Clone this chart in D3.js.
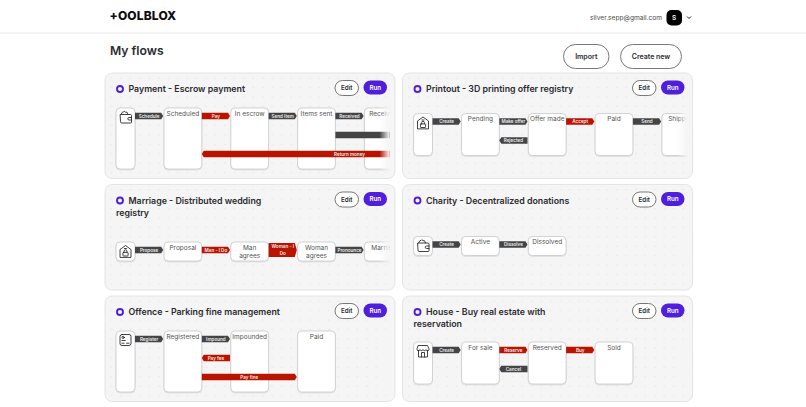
<!DOCTYPE html>
<html lang="en">
<head>
<meta charset="utf-8">
<title>My flows</title>
<script src="https://d3js.org/d3.v7.min.js"></script>
<style>
  html, body { margin: 0; padding: 0; background: #fff; overflow: hidden; }
  text { font-family: Inter, "Noto Sans", sans-serif; }
</style>
</head>
<body>
<div id="page"></div>
<script>
// flows, left to right then top to bottom
var flowTitles = [
  "Payment - Escrow payment",
  "Printout - 3D printing offer registry",
  "Marriage - Distributed wedding\nregistry",
  "Charity - Decentralized donations",
  "Offence - Parking fine management",
  "House - Buy real estate with\nreservation"
];
var flowIcons = ["wallet", "lockhouse", "lockhouse", "wallet", "card", "store"];
var flowLanes = [3, 2, 1, 1, 3, 2];
var flowStates = [
  ["Scheduled", "In escrow", "Items sent", "Received"],
  ["Pending", "Offer made", "Paid", "Shipped"],
  ["Proposal", "Man\nagrees", "Woman\nagrees", "Married"],
  ["Active", "Dissolved"],
  ["Registered", "Impounded", "Paid"],
  ["For sale", "Reserved", "Sold"]
];
// label, from state, to state, lane, kind (-1 is the start icon)
var flowSteps = [
  [["Schedule", -1, 0, 0, "call"], ["Pay", 0, 1, 0, "pay"], ["Send Item", 1, 2, 0, "call"], ["Received", 2, 3, 0, "call"],
   ["", 2, 5, 1, "call"], ["Return money", 5, 0, 2, "pay"]],
  [["Create", -1, 0, 0, "call"], ["Make offer", 0, 1, 0, "call"], ["Rejected", 1, 0, 1, "call"], ["Accept", 1, 2, 0, "pay"], ["Send", 2, 3, 0, "call"]],
  [["Propose", -1, 0, 0, "call"], ["Man - I Do", 0, 1, 0, "pay"], ["Woman - I\nDo", 1, 2, 0, "pay"], ["Pronounce", 2, 3, 0, "call"]],
  [["Create", -1, 0, 0, "call"], ["Dissolve", 0, 1, 0, "call"]],
  [["Register", -1, 0, 0, "call"], ["Impound", 0, 1, 0, "call"], ["Pay fee", 1, 0, 1, "pay"], ["Pay fine", 0, 2, 2, "pay"]],
  [["Create", -1, 0, 0, "call"], ["Reserve", 0, 1, 0, "pay"], ["Cancel", 1, 0, 1, "call"], ["Buy", 1, 2, 0, "pay"]]
];

var w = 806, h = 407;
var purple = "#4f1fdc", dark = "#444444", red = "#b81400", ink = "#2b2b30";
var cardW = 290;
var cardX = d3.scalePoint().domain([0, 1]).range([105, 402.5]);
var cardY = d3.scalePoint().domain([0, 1, 2]).range([73, 296]);
var cardH = 105.5;
// states per column, lanes per row, both relative to the card
var col = d3.scaleLinear().domain([0, 1]).range([59, 125.8]);
var lane = d3.scaleLinear().domain([0, 1]).range([8, 27]);
var boxW = 37.8;
var boxH = { 1: 19, 2: 42, 3: 61 };

var svg = d3.select("#page").append("svg")
  .attr("width", w).attr("height", h)
  .attr("viewBox", `0 0 ${w} ${h}`)
  .style("display", "block");

var defs = svg.append("defs");
var dots = defs.append("pattern").attr("id", "dots")
  .attr("patternUnits", "userSpaceOnUse")
  .attr("width", 9.45).attr("height", 9.45);
dots.append("rect").attr("width", 9.45).attr("height", 9.45).attr("fill", "#f5f5f6");
dots.append("circle").attr("cx", 6.6).attr("cy", 5).attr("r", 0.5).attr("fill", "#d6d6d9");
var fade = defs.append("linearGradient").attr("id", "fade");
fade.append("stop").attr("offset", 0).attr("stop-color", "#f5f5f6").attr("stop-opacity", 0);
fade.append("stop").attr("offset", 1).attr("stop-color", "#f5f5f6").attr("stop-opacity", 1);
var soft = defs.append("filter").attr("id", "soft").attr("x", "-20%").attr("y", "-20%").attr("width", "140%").attr("height", "140%");
soft.append("feDropShadow").attr("dx", 0).attr("dy", 0.5).attr("stdDeviation", 0.6).attr("flood-color", "#000").attr("flood-opacity", 0.18);

// header
svg.append("line").attr("x1", 0).attr("x2", w).attr("y1", 33).attr("y2", 33).attr("stroke", "#e8e8e8");
svg.append("text").attr("x", 109.5).attr("y", 20).attr("font-size", 12).attr("font-weight", 800)
  .attr("letter-spacing", 0.15).attr("fill", "#0c0c0c").text("+OOLBLOX");
svg.append("text").attr("x", 662).attr("y", 20).attr("text-anchor", "end").attr("font-size", 6.6)
  .attr("fill", "#4a4a4a").text("silver.sepp@gmail.com");
svg.append("rect").attr("x", 666.5).attr("y", 10).attr("width", 15.5).attr("height", 15.5).attr("rx", 5).attr("fill", "#000");
svg.append("text").attr("x", 674.2).attr("y", 20).attr("text-anchor", "middle").attr("font-size", 6.5)
  .attr("font-weight", 600).attr("fill", "#fff").text("S");
svg.append("path").attr("d", "M687 16.5l2 2l2-2").attr("fill", "none").attr("stroke", "#222").attr("stroke-width", 1);

svg.append("text").attr("x", 110).attr("y", 55).attr("font-size", 12.2).attr("font-weight", 600)
  .attr("fill", ink).text("My flows");

pill(svg, 563.5, 44.5, 45.5, 24, "Import", 7);
pill(svg, 620.5, 44.5, 61, 24, "Create new", 7);

function pill(g, x, y, width, height, label, size) {
  g.append("rect").attr("x", x).attr("y", y).attr("width", width).attr("height", height)
    .attr("rx", height / 2).attr("fill", "#fff").attr("stroke", "#555").attr("stroke-width", 0.8);
  g.append("text").attr("x", x + width / 2).attr("y", y + height / 2 + size * 0.36)
    .attr("text-anchor", "middle").attr("font-size", size).attr("font-weight", 600)
    .attr("fill", ink).text(label);
}

// small outline icons, drawn in a 14 x 14 box
function drawIcon(g, name, cx, cy) {
  var ic = g.append("g").attr("transform", `translate(${cx - 7},${cy - 7})`)
    .attr("fill", "none").attr("stroke", "#2b2b2b").attr("stroke-width", 0.9)
    .attr("stroke-linejoin", "round").attr("stroke-linecap", "round");
  if (name == "wallet") {
    ic.append("path").attr("d", "M2 4.5h10a1 1 0 0 1 1 1v6.5a1 1 0 0 1-1 1H3a1 1 0 0 1-1-1z");
    ic.append("path").attr("d", "M2.5 4.5l1.5-2.5h1l.8-.8l1.2 1h1.5l1 2.3");
    ic.append("path").attr("d", "M13 7.5h-2.5a1 1 0 0 0 0 2.5H13");
  } else if (name == "lockhouse") {
    ic.append("path").attr("d", "M1.5 13V5.5L7 1.5l5.5 4V13z");
    ic.append("path").attr("d", "M6 4.5h2");
    ic.append("rect").attr("x", 4.4).attr("y", 8.4).attr("width", 5.2).attr("height", 3.6).attr("rx", 0.6);
    ic.append("path").attr("d", "M5.6 8.4V7.2a1.4 1.4 0 0 1 2.8 0V8.4");
  } else if (name == "card") {
    ic.append("rect").attr("x", 1.5).attr("y", 1.5).attr("width", 11).attr("height", 11).attr("rx", 2);
    ic.append("circle").attr("cx", 4.6).attr("cy", 4.4).attr("r", 1.1);
    ic.append("path").attr("d", "M3.4 7.5h3.4M3.4 10.2h2.2M8 10.2h2.6");
  } else {
    ic.append("path").attr("d", "M2.5 6.5V13h9V6.5");
    ic.append("path").attr("d", "M2.5 1.5h9l1.5 3.5a1.5 1.5 0 0 1-3 .6a1.6 1.6 0 0 1-3 0a1.6 1.6 0 0 1-3 0a1.5 1.5 0 0 1-3-.6z");
    ic.append("path").attr("d", "M5.5 13V8.5h3V13");
  }
}

function drawCard(i) {
  var x0 = cardX(i % 2), y0 = cardY(Math.floor(i / 2));
  var card = svg.append("g").attr("transform", `translate(${x0},${y0})`);
  card.append("rect").attr("width", cardW).attr("height", cardH).attr("rx", 7)
    .attr("fill", "url(#dots)").attr("stroke", "#e2e2e4").attr("stroke-width", 0.9);

  // title, the bullet sits in front of the first line only
  var lines = flowTitles[i].split("\n");
  card.append("circle").attr("cx", 15).attr("cy", 16).attr("r", 3).attr("fill", "none")
    .attr("stroke", purple).attr("stroke-width", 1.9);
  lines.forEach(function (t, k) {
    card.append("text").attr("x", k == 0 ? 23.5 : 11).attr("y", 19.4 + k * 11.8)
      .attr("font-size", 8.8).attr("font-weight", 600).attr("fill", ink).text(t);
  });

  // buttons
  pill(card, 230, 7.5, 23.5, 15, "Edit", 6.2);
  card.append("rect").attr("x", 258.5).attr("y", 7.5).attr("width", 23.5).attr("height", 14).attr("rx", 7).attr("fill", purple);
  card.append("text").attr("x", 270.2).attr("y", 16.7).attr("text-anchor", "middle").attr("font-size", 6.2)
    .attr("font-weight", 600).attr("fill", "#fff").text("Run");

  // the flow is clipped at the right and fades out there
  var height = boxH[flowLanes[i]];
  var top = Math.max(lines.length > 1 ? 46 : 35, (lines.length > 1 ? 67 : 61.5) - height / 2);
  var clipId = "clip" + i;
  defs.append("clipPath").attr("id", clipId).append("rect")
    .attr("x", 0).attr("y", 0).attr("width", cardW - 5.5).attr("height", cardH);
  var flow = card.append("g").attr("clip-path", `url(#${clipId})`);

  flow.append("rect").attr("x", 11).attr("y", top).attr("width", 19).attr("height", height)
    .attr("rx", 4).attr("fill", "#fff").attr("stroke", "#c9c9cc").attr("stroke-width", 0.8).attr("filter", "url(#soft)");
  drawIcon(flow, flowIcons[i], 20.5, top + 9);

  flow.selectAll("g.state").data(flowStates[i]).join("g").attr("class", "state")
    .each(function (d, k) {
      var g = d3.select(this);
      g.append("rect").attr("x", col(k)).attr("y", top).attr("width", boxW).attr("height", height)
        .attr("rx", 4).attr("fill", "#fff").attr("stroke", "#c9c9cc").attr("stroke-width", 0.8).attr("filter", "url(#soft)");
      d.split("\n").forEach(function (t, n) {
        g.append("text").attr("x", col(k) + boxW / 2).attr("y", top + 7.5 + n * 8)
          .attr("text-anchor", "middle").attr("font-size", 6.5).attr("fill", "#555").text(t);
      });
    });

  flow.selectAll("g.step").data(flowSteps[i]).join("g").attr("class", "step")
    .each(function (d) {
      var g = d3.select(this);
      var left = col(Math.min(d[1], d[2])) + boxW, right = col(Math.max(d[1], d[2])) - 0.8;
      var cy = top + lane(d[3]);
      var rows = d[0].split("\n");
      var half = rows.length > 1 ? 7 : 3.2;
      var tip = 2, pts;
      if (d[2] > d[1]) {
        pts = [[left, cy - half], [right - tip, cy - half], [right, cy], [right - tip, cy + half], [left, cy + half]];
      } else {
        pts = [[right, cy - half], [left + tip, cy - half], [left, cy], [left + tip, cy + half], [right, cy + half]];
      }
      g.append("polygon").attr("points", pts.join(" ")).attr("fill", d[4] == "pay" ? red : dark);
      rows.forEach(function (t, n) {
        g.append("text").attr("x", (left + right) / 2)
          .attr("y", cy + 1.6 + (n - (rows.length - 1) / 2) * 7)
          .attr("text-anchor", "middle").attr("font-size", 4.6).attr("font-weight", 600)
          .attr("fill", "#ececec").text(t);
      });
    });

  card.append("rect").attr("x", cardW - 15.5).attr("y", top - 1).attr("width", 10).attr("height", height + 2)
    .attr("fill", "url(#fade)");
}

flowTitles.forEach(function (t, i) { drawCard(i); });
</script>
</body>
</html>
